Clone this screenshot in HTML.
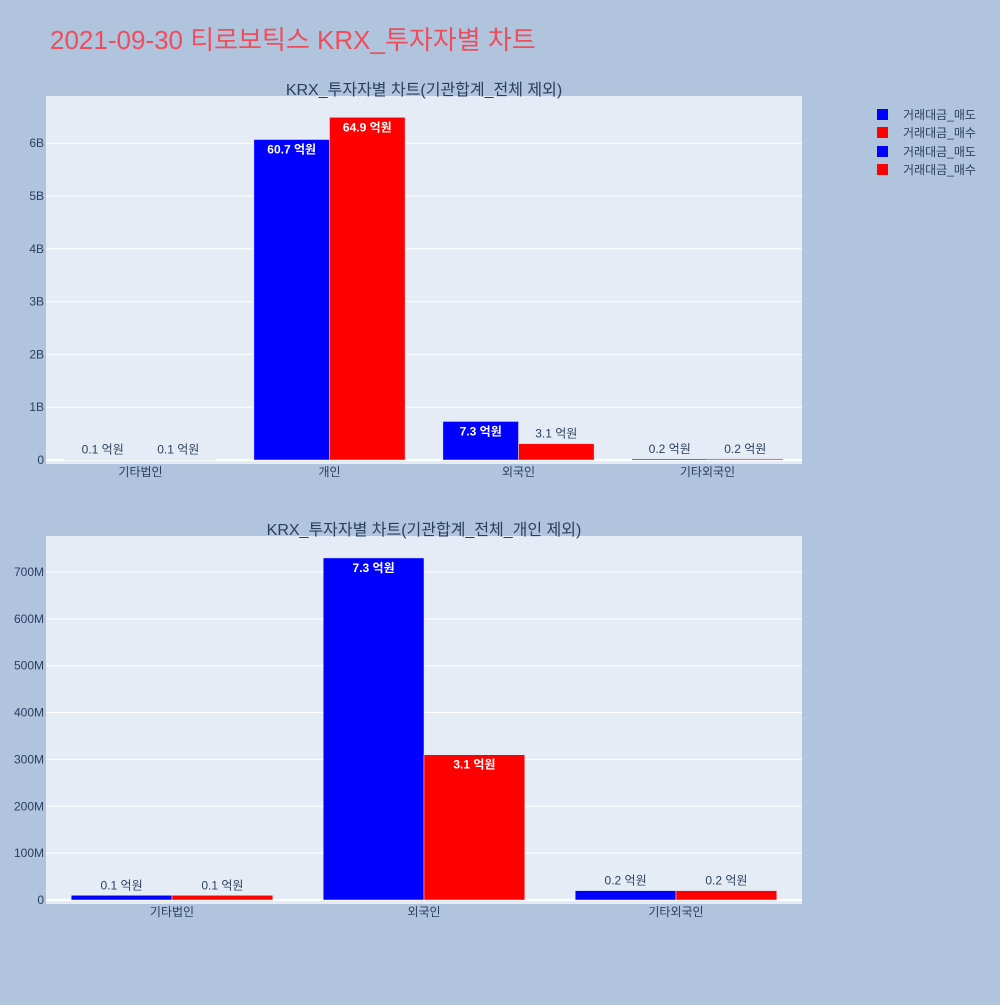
<!DOCTYPE html>
<html><head><meta charset="utf-8">
<style>
body{margin:0;background:#b0c4de;}
svg text{font-family:"Liberation Sans","Noto Sans CJK KR",sans-serif;}
</style></head>
<body>
<svg id="s" width="1000" height="1000" xmlns="http://www.w3.org/2000/svg">
<rect width="1000" height="1000" fill="#b0c4de"/>
<text x="50" y="49" font-size="26" fill="#ef4d5b">2021-09-30 티로보틱스 KRX_투자자별 차트</text>
<g>
<rect x="877" y="109" width="11" height="11" fill="#0000ff"/>
<text x="903" y="119" font-size="12" fill="#2a3f5f">거래대금_매도</text>
<rect x="877" y="127" width="11" height="11" fill="#ff0000"/>
<text x="903" y="137" font-size="12" fill="#2a3f5f">거래대금_매수</text>
<rect x="877" y="146" width="11" height="11" fill="#0000ff"/>
<text x="903" y="156" font-size="12" fill="#2a3f5f">거래대금_매도</text>
<rect x="877" y="164" width="11" height="11" fill="#ff0000"/>
<text x="903" y="174" font-size="12" fill="#2a3f5f">거래대금_매수</text>
</g>
</svg>
<script>
const cats1 = ["기타법인","개인","외국인","기타외국인"];
const sell1 = [10000000, 6070000000, 730000000, 20000000];
const buy1 = [10000000, 6490000000, 310000000, 20000000];
const ticks1 = [0,1e9,2e9,3e9,4e9,5e9,6e9];
const tickLabels1 = ["0","1B","2B","3B","4B","5B","6B"];
const cats2 = ["기타법인","외국인","기타외국인"];
const sell2 = [10000000, 730000000, 20000000];
const buy2 = [10000000, 310000000, 20000000];
const ticks2 = [0,1e8,2e8,3e8,4e8,5e8,6e8,7e8];
const tickLabels2 = ["0","100M","200M","300M","400M","500M","600M","700M"];

const NS="http://www.w3.org/2000/svg";
const svg=document.getElementById('s');
function mk(t,a,p){const e=document.createElementNS(NS,t);for(const k in a)e.setAttribute(k,a[k]);(p||svg).appendChild(e);return e;}

function chart(id,title,cats,sell,buy,ticks,tl,top,yScalePer,zeroY){
  const L=46,R=802,T=top,B=top+368;
  const g=mk('g',{});
  
  
  const bg=mk('rect',{x:L,y:T,width:R-L,height:B-T,fill:'#e5ecf6'},g);
  
  
  const y=v=>zeroY-v*yScalePer;
  ticks.forEach((t,i)=>{
    const ln=mk('line',{x1:L,x2:R,y1:y(t),y2:y(t),stroke:'#fff','stroke-width':i==0?2:1},g);
    
    
    const tx=mk('text',{x:L-2,y:y(t)+4,'font-size':12,fill:'#2a3f5f','text-anchor':'end'},g);
    
    
    tx.textContent=tl[i];
  });
  const band=(R-L)/cats.length, bw=band*0.8/2;
  const x=i=>L+band*(i+0.5);
  cats.forEach((c,i)=>{
    [[sell,'#0000ff',-1],[buy,'#ff0000',0]].forEach(([arr,col,off])=>{
      const v=arr[i],x0=x(i)+off*bw,h=v*yScalePer;
      const r=mk('rect',{x:x0,y:y(v),width:bw,height:h,fill:col,stroke:'#e5ecf6','stroke-width':0.5},g);
      
      
      const lab=(v/1e8).toFixed(1)+' 억원';
      const inside=h>25;
      const t=mk('text',{x:x0+bw/2,y:inside?y(v)+14:y(v)-6,'font-size':12,'text-anchor':'middle',fill:inside?'#fff':'#2a3f5f','font-weight':inside?'bold':'normal'},g);
      
      
      t.textContent=lab;
    });
    const ct=mk('text',{x:x(i),y:B+12,'font-size':12,fill:'#2a3f5f','text-anchor':'middle'},g);
    
    
    ct.textContent=c;
  });
  const tt=mk('text',{x:(L+R)/2,y:T-1,'font-size':16,fill:'#2a3f5f','text-anchor':'middle'},g);
  
  
  tt.textContent=title;
}
chart('top-chart','KRX_투자자별 차트(기관합계_전체 제외)',cats1,sell1,buy1,ticks1,tickLabels1,96,52.8/1e9,460);
chart('bottom-chart','KRX_투자자별 차트(기관합계_전체_개인 제외)',cats2,sell2,buy2,ticks2,tickLabels2,536,46.86/1e8,900);
</script>
</body></html>
